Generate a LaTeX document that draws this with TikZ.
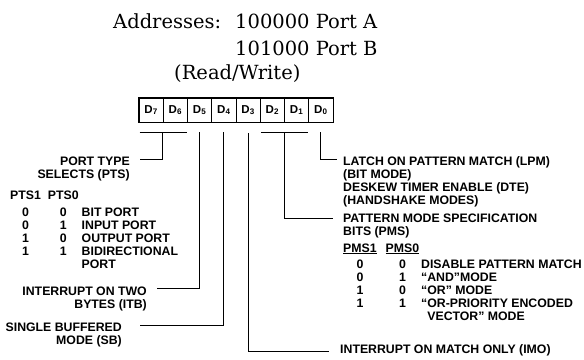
\documentclass[tikz,border=0pt]{standalone}
\usepackage{fontspec}
\setmainfont{DejaVu Serif}
\newfontfamily\lbl{Liberation Sans}
\begin{document}
\begin{tikzpicture}[x=1pt,y=-1pt,
  lab/.style={font=\lbl\bfseries\fontsize{12.3}{13}\selectfont, inner sep=0pt},
  hdr/.style={font=\fontsize{19.5}{22}\selectfont, inner sep=0pt, anchor=base west},
  conn/.style={line width=1pt},
  cell/.style={draw, line width=0.7pt, minimum width=24.25pt, minimum height=24pt, inner sep=0pt,
    font=\lbl\bfseries\fontsize{11.5}{12}\selectfont}]
\useasboundingbox[fill=white] (0,0) rectangle (584,359);

% header
\node[hdr] (addr) at (113,28) {Addresses:};
\node[hdr] (pa) at (235,28) {100000 Port A};
\node[hdr] (pb) at (235,55) {101000 Port B};
\node[hdr] (rw) at (174,79) {(Read/Write)};

% register
\foreach \i/\d in {0/7,1/6,2/5,3/4,4/3,5/2,6/1,7/0}
  \node[cell] (c\d) at ({139+(\i+0.5)*24.25},110) {D\textsubscript{\d}};
\draw[line width=1.4pt] (c7.north west) rectangle (c0.south east);

% end points of connectors
\coordinate (ptsend) at (140,159);
\coordinate (itbend) at (157,288);
\coordinate (sbend) at (140,325);
\coordinate (imoend) at (329,351);
\coordinate (pmsend) at (333,218);
\coordinate (lpmend) at (337,159);

% connectors
\draw[conn] ([shift={(1,10)}]c7.south west) -- ([shift={(-1,10)}]c6.south east);
\draw[conn] ([shift={(0,10)}]c6.south west) |- (ptsend);
\draw[conn] ([shift={(0,10)}]c5.south) |- (itbend);
\draw[conn] ([shift={(0,10)}]c4.south) |- (sbend);
\draw[conn] ([shift={(0,11)}]c3.south) |- (imoend);
\draw[conn] ([shift={(1,10)}]c2.south west) -- ([shift={(-1,10)}]c1.south east);
\draw[conn] ([shift={(0,10)}]c1.south west) |- (pmsend);
\draw[conn] ([shift={(0,10)}]c0.south) |- (lpmend);

% left labels
\node[lab, anchor=base east] (pts) at (130,165)
  {\begin{tabular}[t]{@{}r@{}}PORT TYPE\\SELECTS (PTS)\end{tabular}};
\node[lab, anchor=base west] (ptstab) at (10,199)
  {\begin{tabular}[t]{@{}c@{\hspace{7pt}}c@{\hspace{3pt}}l@{}}
   PTS1 & PTS0 & \\[4pt]
   0 & 0 & BIT PORT\\
   0 & 1 & INPUT PORT\\
   1 & 0 & OUTPUT PORT\\
   1 & 1 & BIDIRECTIONAL\\
     &   & PORT
   \end{tabular}};
\node[lab, anchor=base east] (itb) at (147,295)
  {\begin{tabular}[t]{@{}r@{}}INTERRUPT ON TWO\\BYTES (ITB)\end{tabular}};
\node[lab, anchor=base east] (sb) at (122,331)
  {\begin{tabular}[t]{@{}r@{}}SINGLE BUFFERED\\MODE (SB)\end{tabular}};

% right labels
\node[lab, anchor=base west] (lpm) at (343,165)
  {\begin{tabular}[t]{@{}l@{}}LATCH ON PATTERN MATCH (LPM)\\(BIT MODE)\\DESKEW TIMER ENABLE (DTE)\\(HANDSHAKE MODES)\end{tabular}};
\node[lab, anchor=base west] (pms) at (343,222)
  {\begin{tabular}[t]{@{}l@{}}PATTERN MODE SPECIFICATION\\BITS (PMS)\end{tabular}};
\node[lab, anchor=base west] (pmstab) at (343,252)
  {\begin{tabular}[t]{@{}c@{\hspace{9pt}}c@{\hspace{2pt}}l@{}}
   \underline{PMS1} & \underline{PMS0} & \\[3pt]
   0 & 0 & DISABLE PATTERN MATCH\\
   0 & 1 & “AND”MODE\\
   1 & 0 & “OR” MODE\\
   1 & 1 & “OR-PRIORITY ENCODED\\
     &   & \phantom{“}VECTOR” MODE
   \end{tabular}};
\node[lab, anchor=base west] (imo) at (340,353) {INTERRUPT ON MATCH ONLY (IMO)};
\end{tikzpicture}
\end{document}
